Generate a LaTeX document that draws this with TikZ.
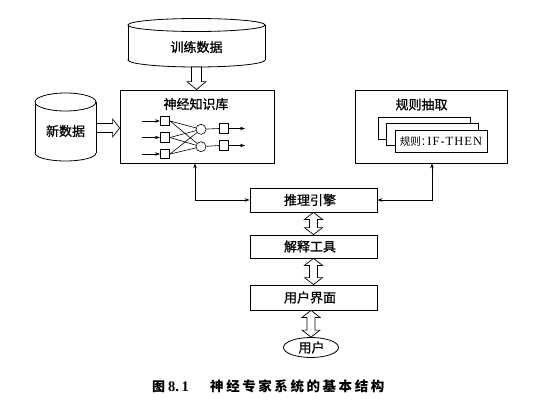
\documentclass[tikz,border=0pt]{standalone}
\usepackage{fontspec}
\setmainfont{Liberation Serif}
\newfontfamily\cjk{Noto Sans CJK SC}
\newfontfamily\cjkm[FakeBold=0.9]{Noto Sans CJK SC}
\usetikzlibrary{arrows.meta,calc,shapes.geometric}
\newcommand{\cf}[2]{\cjkm\fontsize{#1}{#1}\selectfont\addfontfeature{LetterSpace=#2}}
\newcommand{\vdarrow}[2]{\path[harrow] let \p1=(#1), \p2=(#2) in (\x1,\y1) -- (\x1+9pt,\y1-7pt) -- (\x1+4pt,\y1-7pt) -- (\x1+4pt,\y2+7pt) -- (\x1+9pt,\y2+7pt) -- (\x1,\y2) -- (\x1-9pt,\y2+7pt) -- (\x1-4pt,\y2+7pt) -- (\x1-4pt,\y1-7pt) -- (\x1-9pt,\y1-7pt) -- cycle;}
\newcommand{\vsarrow}[2]{\path[harrow] let \p1=(#1), \p2=(#2) in (\x1-5pt,\y1) -- (\x1+5pt,\y1) -- (\x1+5pt,\y2+8pt) -- (\x1+9.5pt,\y2+8pt) -- (\x1,\y2) -- (\x1-9.5pt,\y2+8pt) -- (\x1-5pt,\y2+8pt) -- cycle;}
\newcommand{\hsarrow}[2]{\path[harrow] let \p1=(#1), \p2=(#2) in (\x1,\y1+4.5pt) -- (\x2-7pt,\y1+4.5pt) -- (\x2-7pt,\y1+9pt) -- (\x2,\y1) -- (\x2-7pt,\y1-9pt) -- (\x2-7pt,\y1-4.5pt) -- (\x1,\y1-4.5pt) -- cycle;}
\begin{document}
\begin{tikzpicture}[x=1pt,y=-1pt,
  box/.style={draw, line width=0.8pt, fill=white, inner sep=0},
  cyl/.style={line width=0.8pt},
  lbl/.style={inner sep=0, font=\cf{13}{0}},
  neuron/.style={draw, line width=0.6pt, minimum size=9.5pt, inner sep=0},
  hub/.style={draw, circle, line width=0.6pt, minimum size=10pt, inner sep=0},
  link/.style={line width=0.6pt},
  tip/.style={-{Stealth[length=5pt,width=3.5pt]}},
  harrow/.style={draw, fill=white, line width=0.7pt, line join=miter}]
\useasboundingbox (0,0) rectangle (550,407);

% training data cylinder
\draw[cyl, fill=white] (196.5,60) ellipse [x radius=68.5, y radius=7];
\fill[white] (128,25) rectangle (265,60);
\draw[cyl] (128,25) -- (128,60) (265,25) -- (265,60);
\draw[cyl, fill=white] (196.5,25) ellipse [x radius=68.5, y radius=6.5];
\node[lbl] (train) at (196.5,47) {训练数据};
\coordinate (trainbot) at (196.5,67);

% new data cylinder
\draw[cyl, fill=white] (65.5,153) ellipse [x radius=30.5, y radius=8];
\fill[white] (35,102) rectangle (96,153);
\draw[cyl] (35,102) -- (35,153) (96,102) -- (96,153);
\draw[cyl, fill=white] (65.5,102) ellipse [x radius=30.5, y radius=9];
\node[lbl] (newd) at (65.5,131) {新数据};
\coordinate (newright) at (96.5,128);

% neural knowledge base
\node[box, minimum width=154pt, minimum height=73pt] (kb) at (197,126.5) {};
\node[lbl] (kbt) at (196,104) {神经知识库};
\node[neuron] (i1) at (165,121) {};
\node[neuron] (i2) at (165,137.5) {};
\node[neuron] (i3) at (165,154) {};
\node[hub] (h1) at (201,129.3) {};
\node[hub] (h2) at (201,146.7) {};
\node[neuron] (o1) at (224,128.5) {};
\node[neuron] (o2) at (224,145.5) {};
\coordinate (in1) at (142,121);
\coordinate (in2) at (142,137.5);
\coordinate (in3) at (142,154);
\coordinate (out1) at (245,128.5);
\coordinate (out2) at (245,145.5);
\foreach \k in {1,2,3}{\draw[link,tip] (in\k) -- (i\k.west);}
\foreach \k in {1,2,3}{\foreach \j in {1,2}{\draw[link] (i\k.east) -- (h\j);}}
\draw[link] (h1) -- (o1.west);
\draw[link] (h2) -- (o2.west);
\draw[link,tip] (o1.east) -- (out1);
\draw[link,tip] (o2.east) -- (out2);

% rule extraction
\node[box, minimum width=152pt, minimum height=73pt] (rule) at (431,126.5) {};
\node[lbl] (rulet) at (421.5,104.5) {规则抽取};
\node[box, line width=0.7pt, minimum width=92pt, minimum height=22pt] (card1) at (424,128) {};
\node[box, line width=0.7pt, minimum width=92pt, minimum height=22pt] (card2) at (432.5,134.5) {};
\node[box, line width=0.7pt, minimum width=92pt, minimum height=22pt] (card3) at (441,141) {};
\node[inner sep=0] (cardt) at (441,141.5) {{\cjk\fontsize{10.5}{12}\selectfont 规则：}\hspace{-4pt}{\fontsize{12.5}{13}\selectfont\addfontfeature{LetterSpace=8}IF-THEN}};

% lower chain
\node[box, minimum width=127pt, minimum height=24pt] (eng) at (313.5,200) {};
\node[lbl] (engt) at (310,200) {推理引擎};
\node[box, minimum width=127pt, minimum height=23pt] (expl) at (313.5,246.5) {};
\node[lbl] (explt) at (310,246.5) {解释工具};
\node[box, minimum width=127pt, minimum height=25pt] (ui) at (313.5,297.5) {};
\node[lbl] (uit) at (310,297.5) {用户界面};
\node[draw, ellipse, line width=0.8pt, minimum width=55pt, minimum height=20pt, inner sep=0] (user) at (311,347.5) {};
\node[lbl] (usert) at (311.5,347.5) {用户};

% connectors
\draw[link,{Stealth[length=5pt,width=3.5pt]}-{Stealth[length=5pt,width=3.5pt]}] (kb.south -| 195,0) |- (eng.west);
\draw[link,{Stealth[length=5pt,width=3.5pt]}-{Stealth[length=5pt,width=3.5pt]}] (rule.south -| 432,0) |- (eng.east);
\vsarrow{trainbot}{kb.north -| trainbot}
\hsarrow{newright}{kb.west |- newright}
\vdarrow{eng.south}{expl.north}
\vdarrow{expl.south}{ui.north}
\vdarrow{ui.south -| user.north}{user.north}

% caption
\node[inner sep=0, anchor=west] (cap1) at (152,386.5) {{\cjk\bfseries\fontsize{13}{14}\selectfont 图}\hspace{3pt}{\bfseries\fontsize{14.5}{15}\selectfont 8.\hspace{2.5pt}1}};
\node[inner sep=0, anchor=west, font=\cjk\fontsize{13.5}{14}\selectfont\addfontfeature{LetterSpace=19}\bfseries] (cap2) at (210,386.5) {神经专家系统的基本结构};
\end{tikzpicture}
\end{document}
